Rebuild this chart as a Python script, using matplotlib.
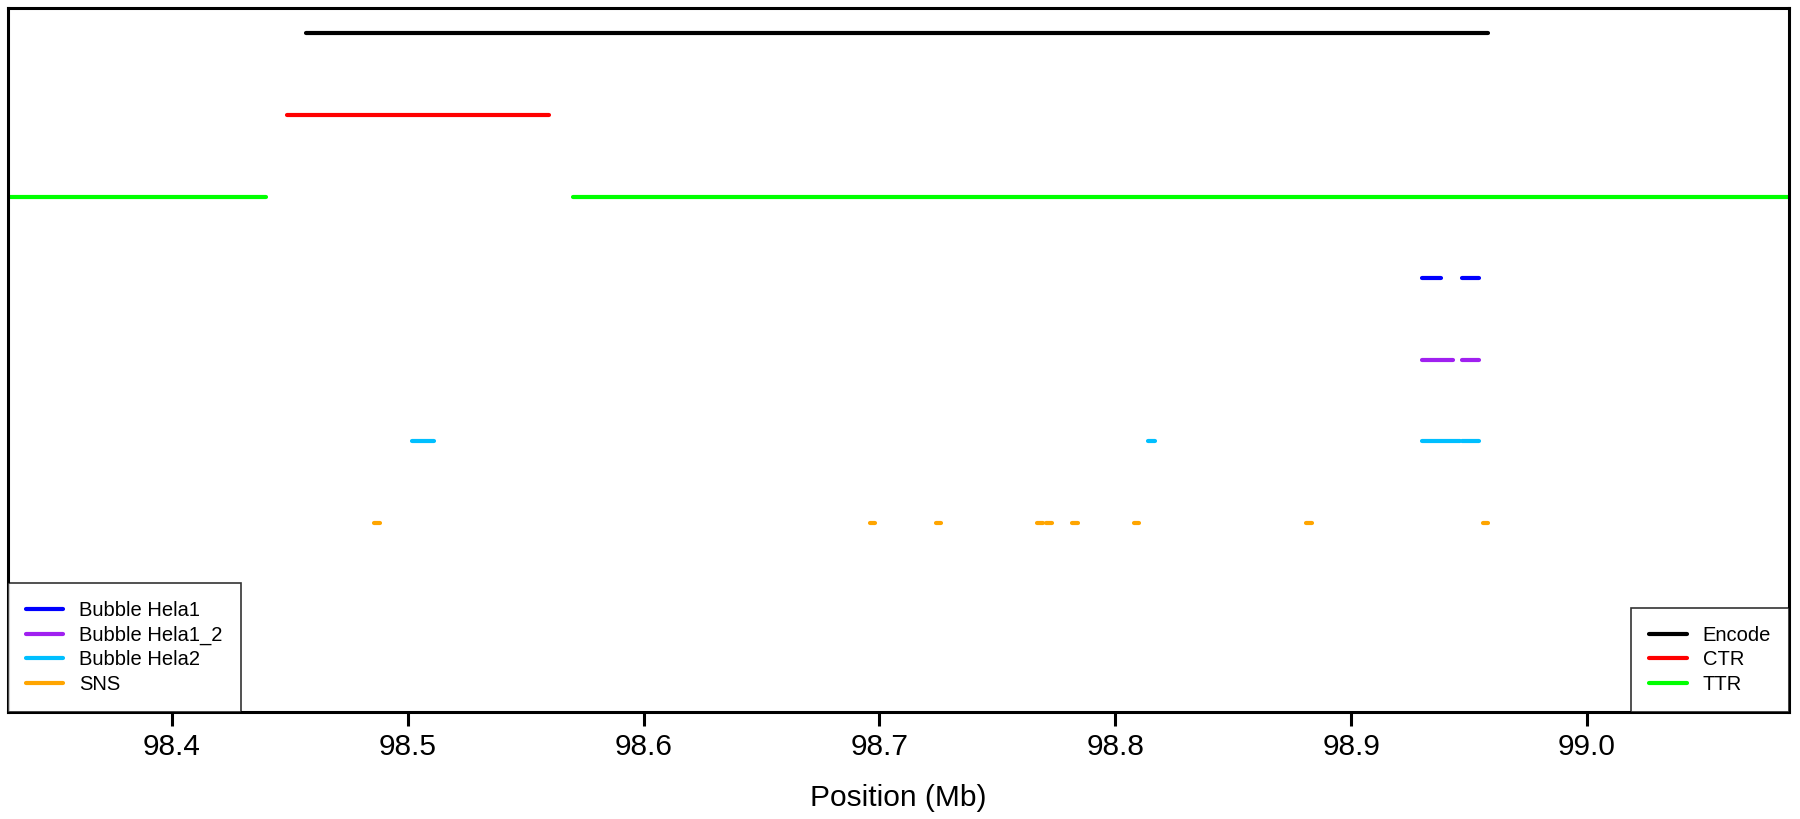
import numpy as np
import matplotlib
matplotlib.use("Agg")
import matplotlib.pyplot as plt
from matplotlib.lines import Line2D

plt.rcParams['font.family'] = ['Liberation Sans', 'DejaVu Sans']

# track segments (Mb), start / end
encode_start = [98.457]
encode_end = [98.958]
ctr_start = [98.449]
ctr_end = [98.560]
ttr_start = [98.300, 98.570]
ttr_end = [98.440, 99.100]
hela1_start = [98.930, 98.947]
hela1_end = [98.938, 98.954]
hela1_2_start = [98.930, 98.947]
hela1_2_end = [98.943, 98.954]
hela2_start = [98.502, 98.814, 98.930, 98.947]
hela2_end = [98.511, 98.817, 98.946, 98.954]
sns_pos = [98.487, 98.697, 98.725, 98.768, 98.772, 98.783, 98.809, 98.882, 98.957]

tracks = [
    ("Encode", "black", encode_start, encode_end, 7),
    ("CTR", "#FF0000", ctr_start, ctr_end, 6),
    ("TTR", "#00FF00", ttr_start, ttr_end, 5),
    ("Bubble Hela1", "#0000FF", hela1_start, hela1_end, 4),
    ("Bubble Hela1_2", "#A020F0", hela1_2_start, hela1_2_end, 3),
    ("Bubble Hela2", "#00BFFF", hela2_start, hela2_end, 2),
    ("SNS", "#FFA500", [p - 0.0012 for p in sns_pos], [p + 0.0012 for p in sns_pos], 1),
]

LW = 3.0

fig = plt.figure(figsize=(18, 8.19), dpi=100)
ax = fig.add_axes([0.0044, 0.1306, 0.9896, 0.8594])

for name, col, st, en, yy in tracks:
    for a, b in zip(st, en):
        ax.plot([a, b], [yy, yy], color=col, lw=LW, solid_capstyle='round')

ax.set_xlim(98.3305, 99.0857)
ax.set_ylim(-1.32, 7.31)
ax.set_yticks([])
ax.set_xticks([98.4, 98.5, 98.6, 98.7, 98.8, 98.9, 99.0])
ax.set_xticklabels(["98.4", "98.5", "98.6", "98.7", "98.8", "98.9", "99.0"])
ax.tick_params(axis='x', length=10, width=2.2, labelsize=21.5, pad=5)
ax.set_xlabel("Position (Mb)", fontsize=21.5, labelpad=17)
for s in ax.spines.values():
    s.set_linewidth(2.2)

def handles(items):
    return [Line2D([0], [0], color=c, lw=LW, solid_capstyle='round') for _, c, *_ in items]

left_items = tracks[3:]
right_items = tracks[:3]
leg_kw = dict(fontsize=14.5, frameon=True, fancybox=False, edgecolor='black',
              borderaxespad=0, handlelength=1.85, handletextpad=0.8,
              labelspacing=0.27, borderpad=0.9)
leg1 = ax.legend(handles(left_items), [t[0] for t in left_items], loc='lower left', **leg_kw)
leg1.get_frame().set_linewidth(1.2)
ax.add_artist(leg1)
leg2 = ax.legend(handles(right_items), [t[0] for t in right_items], loc='lower right', **leg_kw)
leg2.get_frame().set_linewidth(1.2)

fig.savefig("out.png", dpi=100)
